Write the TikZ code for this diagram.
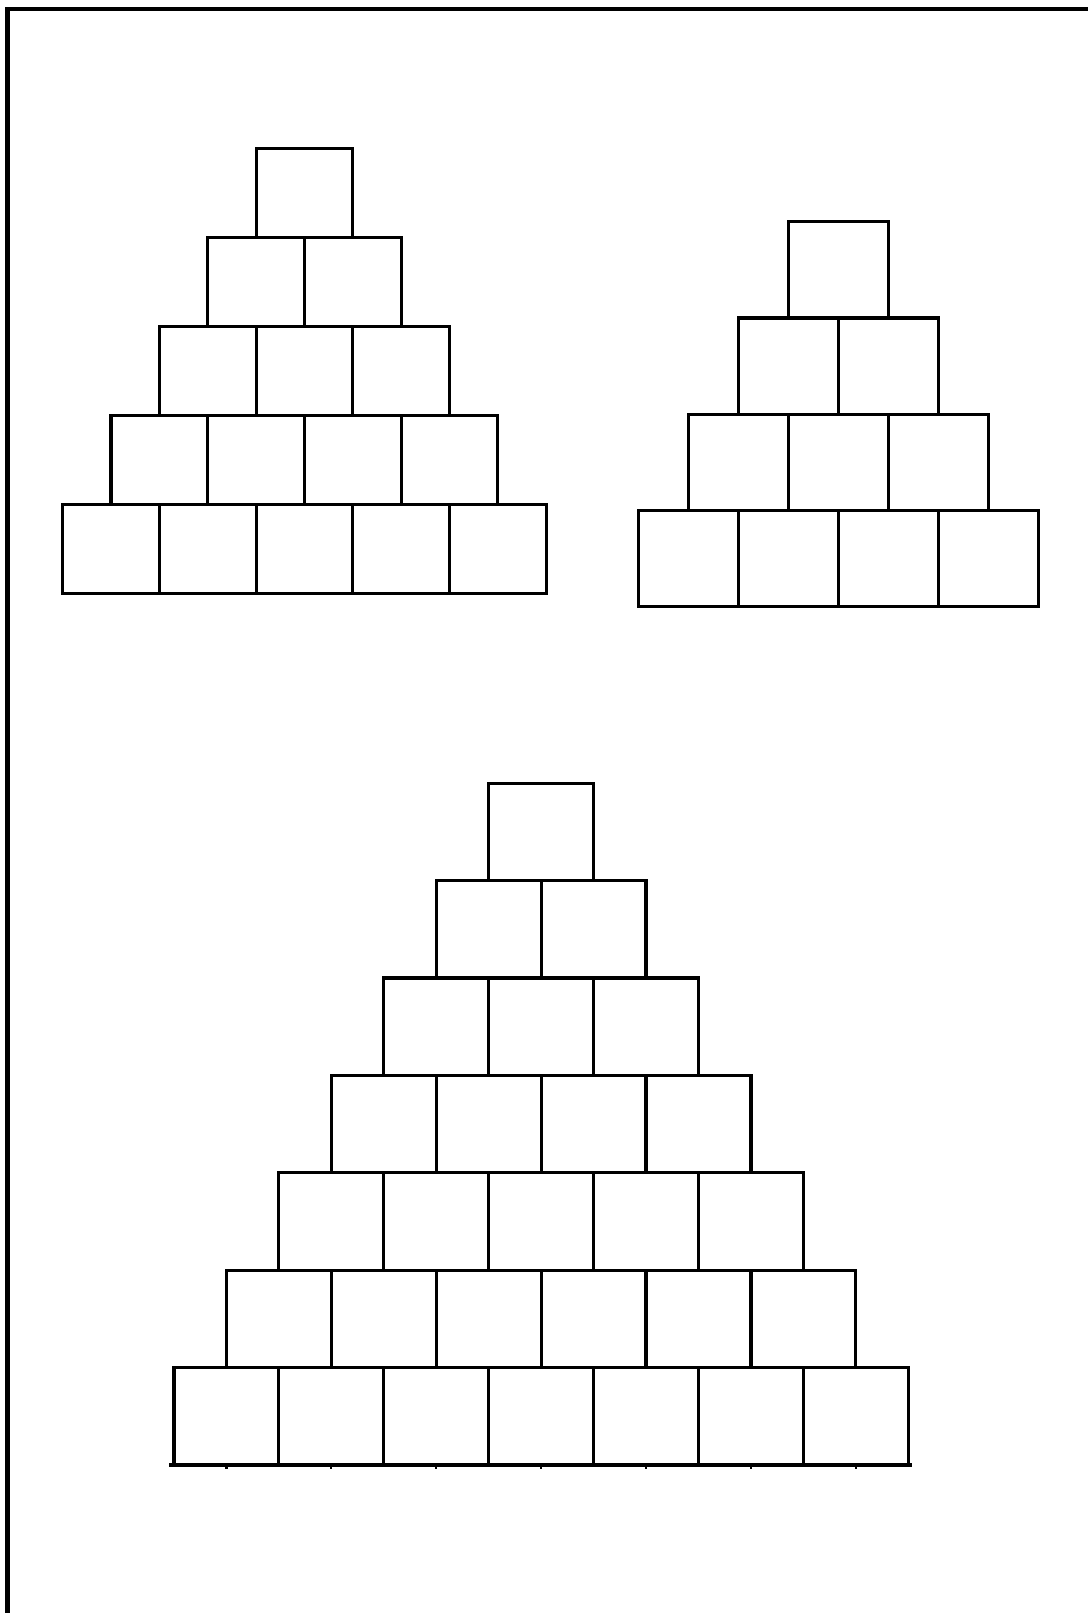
\documentclass[tikz,border=0pt]{standalone}
\usepackage{tikz}

\tikzset{
  cell/.style  = {draw=black, line width=1.8pt, line join=miter},
  frame/.style = {draw=black, line width=2.8pt}
}

% #1 left x of base row, #2 bottom y of base row, #3 cell width, #4 cell height, #5 rows
\newcommand{\drawpyramid}[5]{%
  \pgfmathtruncatemacro{\toprow}{#5-1}
  \foreach \r in {0,...,\toprow}{
    \pgfmathtruncatemacro{\lastc}{#5-\r-1}
    \foreach \c in {0,...,\lastc}{
      \draw[cell] ({#1+\r*#3/2+\c*#3},{#2-\r*#4}) rectangle ++(#3,-#4);
    }
  }%
}

\begin{document}
\begin{tikzpicture}[x=0.02cm, y=-0.02cm]

\useasboundingbox (0,0) rectangle (1088,1613);

%% -- page frame (left and top only) -------------------------------
\coordinate (fbl) at (7.5,1613);
\coordinate (ftl) at (7.5,9);
\coordinate (ftr) at (1088,9);
\draw[frame] (fbl) -- (ftl) -- (ftr);

%% -- pyramid 1: five rows (top left) -------------------------------
\drawpyramid{62.7}{593.3}{96.7}{89}{5}

%% -- pyramid 2: four rows (top right) ------------------------------
\drawpyramid{638.3}{606.7}{100}{96.25}{4}

%% -- pyramid 3: seven rows (bottom) --------------------------------
\drawpyramid{174}{1465}{104.9}{97.4}{7}
\coordinate (bl) at (169,1465);
\coordinate (br) at (912,1465);
\draw[cell] (bl) -- (br);
\foreach \c in {0,...,6}
  \draw[line width=1.2pt] ({174+52.45+\c*104.9},1465) -- ++(0,4);

\end{tikzpicture}
\end{document}
